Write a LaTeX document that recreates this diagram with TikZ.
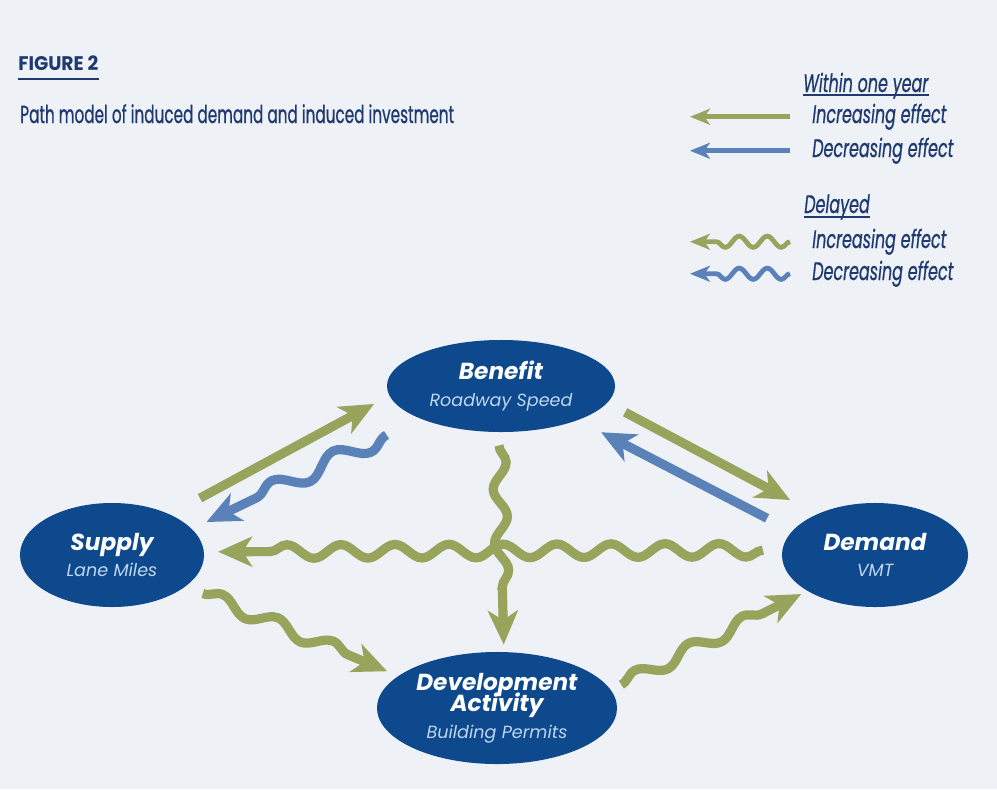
\documentclass[tikz,border=0pt]{standalone}
\usepackage{fontspec}
\setmainfont{Poppins}
\newfontfamily\epais[FakeBold=0.9]{Poppins}
\usetikzlibrary{arrows.meta,calc,shapes.geometric,decorations.pathmorphing}
\definecolor{Fond}{RGB}{238,241,246}
\definecolor{Ovale}{RGB}{13,73,140}
\definecolor{Olive}{RGB}{152,164,92}
\definecolor{Acier}{RGB}{90,130,185}
\definecolor{Encre}{RGB}{30,58,112}
\definecolor{Pale}{RGB}{190,214,240}
\newcommand\serre[2]{\scalebox{#1}[1]{#2}}
\newcommand\titre[1]{{\color{white}\fontsize{16.5}{19}\selectfont\bfseries\itshape #1}}
\newcommand\soustitre[1]{{\color{Pale}\fontsize{12.5}{19}\selectfont\itshape #1}}
\tikzset{
  bulle/.style={ellipse, fill=Ovale, inner sep=0pt, align=center, font=\fontsize{14}{19}\selectfont},
  fleche/.style={line width=0.23cm, -{Stealth[length=0.85cm, width=0.75cm, inset=0.24cm]}},
  vague/.style={fleche, decorate, decoration={snake, amplitude=0.17cm, segment length=1.35cm, post length=1cm}},
  petite/.style={line width=0.12cm, -{Stealth[length=0.5cm, width=0.4cm, inset=0.14cm]}},
  petitevague/.style={petite, decorate, decoration={snake, amplitude=0.14cm, segment length=0.7cm, post length=0.55cm}},
  legende/.style={anchor=base west, inner sep=0pt, text=Encre, font=\epais\fontsize{18}{20}\selectfont\itshape},
  trait/.style={Encre, line width=0.04cm}
}

\begin{document}
\begin{tikzpicture}[x=0.025cm, y=-0.025cm]
\fill[Fond] (0,0) rectangle (997,789);
\useasboundingbox (0,0) rectangle (997,789);
% titre
\node[anchor=base west, inner sep=0pt, text=Encre, font=\fontsize{14}{16}\selectfont\bfseries] (fig) at (18,70) {\serre{0.95}{FIGURE 2}};
\draw[trait] ([yshift=-0.22cm]fig.base west) -- ([yshift=-0.22cm]fig.base east);
\node[anchor=base west, inner sep=0pt, text=Encre, font=\epais\fontsize{17.5}{20}\selectfont] (sous) at (20,123) {\serre{0.62}{Path model of induced demand and induced investment}};
%
% legende
\node[legende] (annee) at (803,92) {\serre{0.63}{Within one year}};
\draw[trait] ([yshift=-0.08cm]annee.base west) -- ([yshift=-0.08cm]annee.base east);
\node[legende] (inc1) at (812,123) {\serre{0.63}{Increasing effect}};
\node[legende] (dec1) at (812,157) {\serre{0.63}{Decreasing effect}};
\node[legende] (retard) at (804,213) {\serre{0.63}{Delayed}};
\draw[trait] ([yshift=-0.1cm]retard.base west) -- ([yshift=-0.1cm]retard.base east);
\node[legende] (inc2) at (812,248) {\serre{0.63}{Increasing effect}};
\node[legende] (dec2) at (812,280) {\serre{0.63}{Decreasing effect}};
\coordinate (b1) at ([xshift=-3.05cm]inc1.west);
\coordinate (b2) at ([xshift=-3.05cm]dec1.west);
\coordinate (b3) at ([xshift=-3.05cm]inc2.west);
\coordinate (b4) at ([xshift=-3.05cm]dec2.west);
\draw[petite, Olive] ([xshift=-0.55cm]inc1.west) -- (b1);
\draw[petite, Acier] ([xshift=-0.55cm]dec1.west) -- (b2);
\draw[petitevague, Olive] ([xshift=-0.55cm]inc2.west) -- (b3);
\draw[petitevague, Acier] ([xshift=-0.55cm]dec2.west) -- (b4);
%
% ovales
\node[bulle, minimum width=5.7cm, minimum height=2.3cm] (ben) at (501,386) {\titre{Benefit}\\\soustitre{Roadway Speed}};
\node[bulle, minimum width=4.6cm, minimum height=2.6cm] (sup) at (112,555) {\titre{Supply}\\\soustitre{Lane Miles}};
\node[bulle, minimum width=4.65cm, minimum height=2.6cm] (dem) at (875,555) {\titre{Demand}\\\soustitre{VMT}};
\node[bulle, minimum width=6cm, minimum height=2.8cm] (dev) at (497,708) {\titre{Development}\\[-4pt]\titre{Activity}\\\soustitre{Building Permits}};
%
% effets dans l'annee
\draw[fleche, Olive] ($(sup.35)!0.85cm!(ben.185)$) -- ($(ben.185)!0.43cm!(sup.35)$);
\draw[fleche, Olive] ($(ben.351)!0.5cm!(dem.145)$) -- ($(dem.145)!0.75cm!(ben.351)$);
\draw[fleche, Acier] ($(dem.164)!0.7cm!(ben.336)$) -- ($(ben.336)!0.65cm!(dem.164)$);
%
% effets differes
\draw[vague, Acier, decoration={amplitude=0.22cm, segment length=1.7cm}] ($(ben.202)!0.93cm!(sup.18)$) -- ($(sup.18)!0.4cm!(ben.202)$);
\draw[vague, Olive] ($(dem.177)!0.48cm!(sup.2)$) -- ($(sup.2)!0.35cm!(dem.177)$);
\draw[vague, Olive] ($(ben.267)!0.33cm!(dev.83)$) -- ($(dev.83)!0.18cm!(ben.267)$);
\draw[vague, Olive, decoration={segment length=1.5cm}] ($(sup.337)!0.46cm!(dev.162)$) -- ($(dev.162)!0.3cm!(sup.337)$);
\draw[vague, Olive, decoration={segment length=1.5cm}] ($(dev.9)!0.29cm!(dem.208)$) -- ($(dem.208)!0.17cm!(dev.9)$);
\end{tikzpicture}
\end{document}
